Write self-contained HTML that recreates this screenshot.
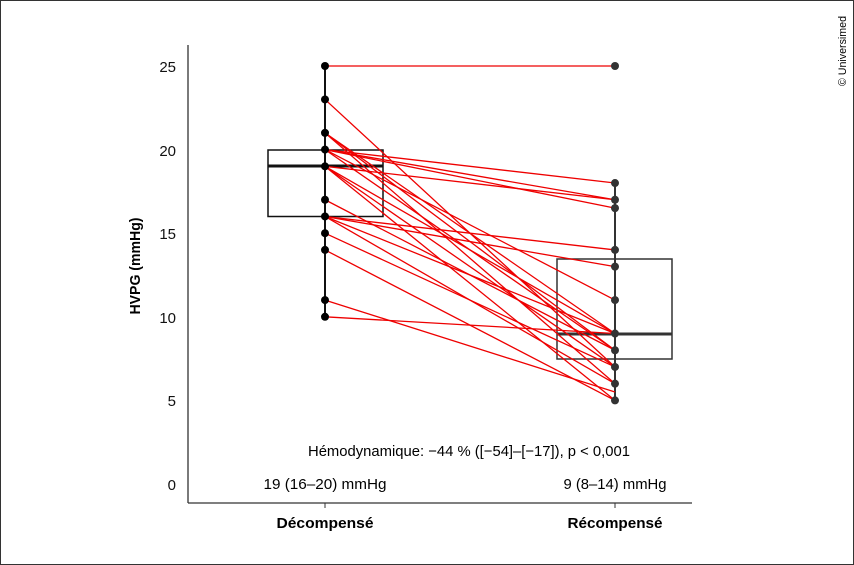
<!DOCTYPE html><html><head><style>body{margin:0}svg{display:block}text{font-family:"Liberation Sans",sans-serif}</style></head><body>
<svg width="854" height="565" viewBox="0 0 854 565">
<rect x="0.5" y="0.5" width="853" height="564" fill="#fff" stroke="#333"/>
<line x1="188" y1="45" x2="188" y2="503" stroke="#333" stroke-width="1.3"/>
<line x1="188" y1="503" x2="692" y2="503" stroke="#333" stroke-width="1.3"/>
<line x1="325" y1="503" x2="325" y2="508" stroke="#333"/>
<line x1="615" y1="503" x2="615" y2="508" stroke="#333"/>
<g font-size="15" text-anchor="end" fill="#111">
<text x="176" y="490">0</text><text x="176" y="406">5</text><text x="176" y="323">10</text><text x="176" y="239">15</text><text x="176" y="156">20</text><text x="176" y="72">25</text>
</g>
<text transform="translate(140,266) rotate(-90)" font-size="15" font-weight="bold" text-anchor="middle" textLength="97" lengthAdjust="spacingAndGlyphs">HVPG (mmHg)</text>
<text x="325" y="528" font-size="15" font-weight="bold" text-anchor="middle" textLength="97" lengthAdjust="spacingAndGlyphs">Décompensé</text>
<text x="615" y="528" font-size="15" font-weight="bold" text-anchor="middle" textLength="95" lengthAdjust="spacingAndGlyphs">Récompensé</text>
<text x="325" y="489" font-size="15" text-anchor="middle" textLength="123" lengthAdjust="spacingAndGlyphs">19 (16–20) mmHg</text>
<text x="615" y="489" font-size="15" text-anchor="middle" textLength="103" lengthAdjust="spacingAndGlyphs">9 (8–14) mmHg</text>
<text x="469" y="456" font-size="15" text-anchor="middle" textLength="322" lengthAdjust="spacingAndGlyphs">Hémodynamique: −44 % ([−54]–[−17]), p &lt; 0,001</text>
<text transform="translate(846,16) rotate(-90)" font-size="11" text-anchor="end" textLength="70" lengthAdjust="spacingAndGlyphs">© Universimed</text>
<line x1="325" y1="66" x2="325" y2="317" stroke="#111" stroke-width="2"/>
<line x1="615" y1="183" x2="615" y2="400" stroke="#333" stroke-width="2"/>
<rect x="268" y="150" width="115" height="66.5" fill="none" stroke="#111" stroke-width="1.5"/>
<line x1="268" y1="166" x2="383" y2="166" stroke="#111" stroke-width="3"/>
<rect x="557" y="259" width="115" height="100" fill="none" stroke="#333" stroke-width="1.5"/>
<line x1="557" y1="334" x2="672" y2="334" stroke="#333" stroke-width="3"/>
<g stroke="#e00" stroke-width="1.3" id="l"></g>
<g fill="#111" id="d"></g>
<script>
var y=v=>484-16.72*v;
var P=[[25,25],[23,7],[21,9],[21,8],[21,6],[20,18],[20,17],[20,16.5],[20,11],[20,8],[19,17],[19,9],[19,7],[19,5],[17,8],[16,14],[16,13],[16,9],[16,6],[15,7],[14,5],[11,5.5],[10,9]];
var ns="http://www.w3.org/2000/svg",l=document.getElementById('l'),d=document.getElementById('d');
P.forEach(p=>{var e=document.createElementNS(ns,'line');e.setAttribute('x1',325);e.setAttribute('y1',y(p[0]));e.setAttribute('x2',615);e.setAttribute('y2',y(p[1]));l.appendChild(e);});
[25,23,21,20,19,17,16,15,14,11,10].forEach(v=>{var c=document.createElementNS(ns,'circle');c.setAttribute('cx',325);c.setAttribute('cy',y(v));c.setAttribute('r',4);c.setAttribute('fill','#000');d.appendChild(c);});
[25,18,17,16.5,14,13,11,9,8,7,6,5].forEach(v=>{var c=document.createElementNS(ns,'circle');c.setAttribute('cx',615);c.setAttribute('cy',y(v));c.setAttribute('r',4);c.setAttribute('fill','#333');d.appendChild(c);});
</script>
</svg></body></html>
